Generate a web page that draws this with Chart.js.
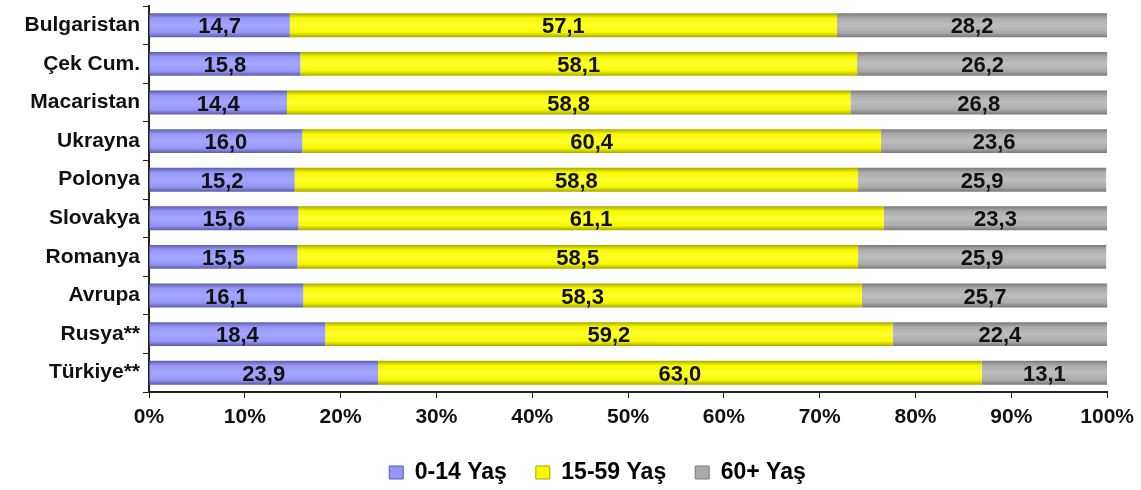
<!DOCTYPE html>
<html><head><meta charset="utf-8">
<script src="https://cdn.jsdelivr.net/npm/chart.js@4/dist/chart.umd.min.js"></script>
<style>html,body{margin:0;padding:0;background:#fff}#wrap{width:1141px;height:490px}</style>
</head><body><div id="wrap"><canvas id="c"></canvas></div>
<script>
const categories = ["Bulgaristan","Çek Cum.","Macaristan","Ukrayna","Polonya","Slovakya","Romanya","Avrupa","Rusya**","Türkiye**"];
const age0_14 = [14.7,15.8,14.4,16.0,15.2,15.6,15.5,16.1,18.4,23.9];
const age15_59 = [57.1,58.1,58.8,60.4,58.8,61.1,58.5,58.3,59.2,63.0];
const age60 = [28.2,26.2,26.8,23.6,25.9,23.3,25.9,25.7,22.4,13.1];
const seriesNames = ["0-14 Yaş","15-59 Yaş","60+ Yaş"];
const xTicks = [0,10,20,30,40,50,60,70,80,90,100];

const FONT = "'Liberation Sans', Arial, sans-serif";
const palettes = [
  {dark:'#5c5ca8', mid:'#9696f8', light:'#a6a6ff'},
  {dark:'#a8a800', mid:'#f8f800', light:'#ffff30'},
  {dark:'#7a7a7a', mid:'#ababab', light:'#bdbdbd'}
];
function grad(ctx, p){
  const chart = ctx.chart;
  const ys = chart.scales.y;
  if(!ys || ctx.dataIndex === undefined) return p.mid;
  const yc = ys.getPixelForValue(ctx.dataIndex);
  const h = 12;
  const g = chart.ctx.createLinearGradient(0, yc-h, 0, yc+h);
  g.addColorStop(0, p.dark);
  g.addColorStop(0.2, p.mid);
  g.addColorStop(0.5, p.light);
  g.addColorStop(0.8, p.mid);
  g.addColorStop(1, p.dark);
  return g;
}
const labelPlugin = {
  id:'segLabels',
  afterLayout(chart){
    if(chart.legend){ chart.legend.left += 82; }
  },
  afterDatasetsDraw(chart){
    const c = chart.ctx;
    c.save();
    c.font = "bold 22px " + FONT;
    c.fillStyle = '#111';
    c.textAlign = 'center';
    c.textBaseline = 'middle';
    chart.data.datasets.forEach((ds, di) => {
      const meta = chart.getDatasetMeta(di);
      meta.data.forEach((el, i) => {
        const x = (el.x + el.base)/2;
        c.fillText(ds.data[i].toFixed(1).replace('.', ','), x, el.y + 2);
      });
    });
    c.restore();
  }
};
new Chart(document.getElementById('c'), {
  type:'bar',
  data:{
    labels: categories,
    datasets:[
      {label:seriesNames[0], data:age0_14, backgroundColor:(ctx)=>grad(ctx,palettes[0])},
      {label:seriesNames[1], data:age15_59, backgroundColor:(ctx)=>grad(ctx,palettes[1])},
      {label:seriesNames[2], data:age60, backgroundColor:(ctx)=>grad(ctx,palettes[2])}
    ]
  },
  options:{
    indexAxis:'y',
    responsive:true,
    maintainAspectRatio:false,
    animation:false,
    layout:{padding:{top:6,right:28,left:0,bottom:0}},
    datasets:{bar:{barPercentage:0.62, categoryPercentage:1, borderWidth:0}},
    scales:{
      x:{
        stacked:true, min:0, max:100,
        afterBuildTicks(s){ s.ticks = xTicks.map(v=>({value:v})); },
        afterFit(s){ s.height = 40; },
        ticks:{color:'#111', font:{family:FONT, size:21, weight:'bold'}, callback:v=>v+'%', padding:7, maxRotation:0},
        grid:{drawOnChartArea:false, drawTicks:true, tickLength:6, color:'#222'},
        border:{color:'#222', width:2}
      },
      y:{
        stacked:true,
        afterFit(s){ s.width = 149; s.paddingTop = 0; s.paddingBottom = 0; },
        ticks:{color:'#111', font:{family:FONT, size:21, weight:'bold'}, padding:3},
        grid:{drawOnChartArea:false, drawTicks:true, tickLength:6, color:'#222', offset:true},
        border:{color:'#222', width:2}
      }
    },
    plugins:{
      legend:{
        position:'bottom',
        maxHeight:58,
        labels:{
          color:'#111', font:{family:FONT, size:23, weight:'bold'},
          boxWidth:14, boxHeight:13, padding:29,
          generateLabels(chart){
            return chart.data.datasets.map((d,i)=>({text:d.label, fillStyle:palettes[i].mid, strokeStyle:palettes[i].dark, lineWidth:1, datasetIndex:i}));
          }
        }
      },
      tooltip:{enabled:false}
    }
  },
  plugins:[labelPlugin]
});
</script></body></html>
